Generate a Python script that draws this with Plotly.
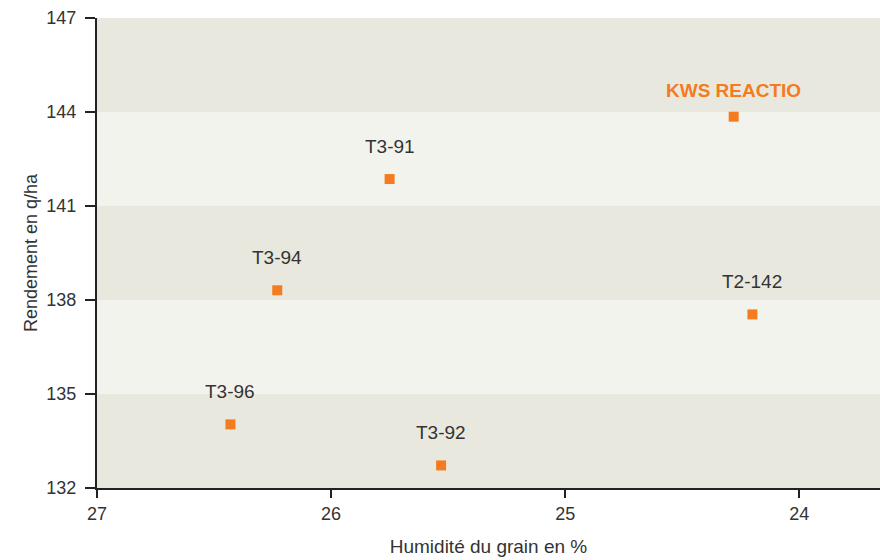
import plotly.graph_objects as go

names = ["KWS REACTIO", "T3-91", "T3-94", "T2-142", "T3-96", "T3-92"]
humidity = [24.28, 25.75, 26.23, 24.20, 26.43, 25.53]
yield_qha = [143.85, 141.86, 138.31, 137.54, 134.03, 132.72]
label_colors = ["#f47b20", "#333333", "#333333", "#333333", "#333333", "#333333"]
label_bold = [True, False, False, False, False, False]

y_ticks = [132, 135, 138, 141, 144, 147]
x_ticks = [27, 26, 25, 24]
dark_bands = [(132, 135), (138, 141), (144, 147)]

DARK = "#e9e8de"
LIGHT = "#f3f3ee"
ORANGE = "#f47b20"
FONT = "Liberation Sans, Arial, sans-serif"

fig = go.Figure()
fig.add_trace(go.Scatter(
    x=humidity, y=yield_qha, mode="markers",
    marker=dict(symbol="square", size=10, color=ORANGE),
    hoverinfo="skip", showlegend=False,
))

for lo, hi in dark_bands:
    fig.add_shape(type="rect", xref="paper", yref="y", x0=0, x1=1, y0=lo, y1=hi,
                  fillcolor=DARK, line_width=0, layer="below")

for n, x, y, c, b in zip(names, humidity, yield_qha, label_colors, label_bold):
    fig.add_annotation(
        x=x, y=y, text=f"<b>{n}</b>" if b else n, showarrow=False,
        yshift=26 if b else 33,
        font=dict(family=FONT, size=19, color=c),
    )

fig.update_layout(
    width=880, height=560,
    margin=dict(l=97, r=0, t=18, b=72),
    paper_bgcolor="white", plot_bgcolor=LIGHT,
    font=dict(family=FONT, size=19, color="#333333"),
    xaxis=dict(
        range=[27, 23.655], tickvals=x_ticks, ticks="outside", ticklen=8, tickwidth=2,
        tickcolor="#222222", showline=True, linewidth=2, linecolor="#222222",
        showgrid=False, zeroline=False, automargin=False,
        title=dict(text="Humidité du grain en %", font=dict(size=19, color="#333333"), standoff=17),
        tickfont=dict(size=18, color="#333333"),
    ),
    yaxis=dict(
        range=[132, 147], tickvals=y_ticks, ticks="outside", ticklen=10, tickwidth=2,
        tickcolor="#222222", showline=True, linewidth=2, linecolor="#222222",
        showgrid=False, zeroline=False, automargin=False, ticklabelstandoff=5,
        title=dict(text="Rendement en q/ha", font=dict(size=18, color="#333333"), standoff=4),
        tickfont=dict(size=18, color="#333333"),
    ),
)

fig.write_html(
    "out.html",
    config={"displayModeBar": False, "staticPlot": True},
    post_script="document.body.style.margin='0px';document.body.style.overflow='hidden';",
)
